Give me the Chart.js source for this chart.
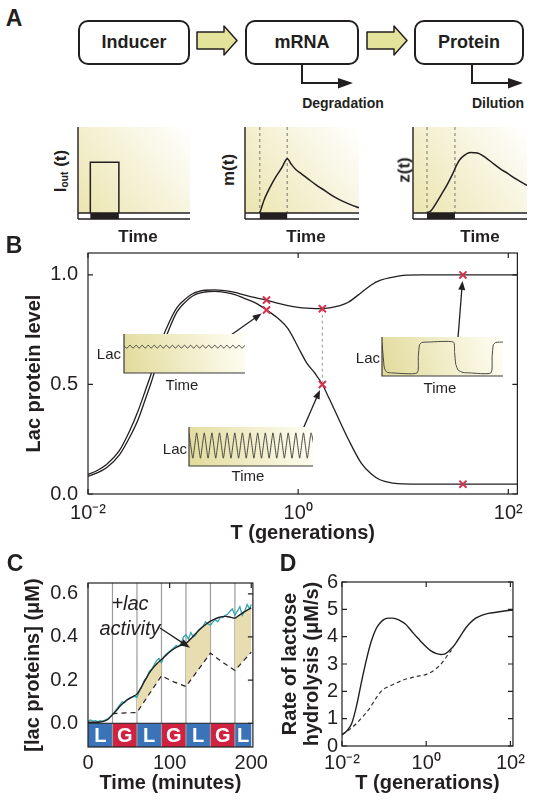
<!DOCTYPE html>
<html>
<head>
<meta charset="utf-8">
<script src="https://cdn.jsdelivr.net/npm/chart.js@4.4.1/dist/chart.umd.min.js"></script>
<style>
  body { margin: 0; background: #fff; }
  #fig { position: relative; width: 535px; height: 800px; overflow: hidden;
         font-family: "Liberation Sans", Arial, Helvetica, sans-serif; color: #231f20; }
  #fig canvas { position: absolute; z-index: 1; }
  #fig canvas.inset { z-index: 2; }
  .t { position: absolute; white-space: nowrap; line-height: 1; z-index: 5; }
  .c { transform: translate(-50%, -50%); }
  .r { transform: translate(-100%, -50%); }
  .v { transform: translate(-50%, -50%) rotate(-90deg); }
  .panel { font-weight: bold; font-size: 23px; }
  .bold { font-weight: bold; }
  .box { position: absolute; border: 2px solid #231f20; border-radius: 10px; box-sizing: border-box;
         display: flex; align-items: center; justify-content: center; font-weight: bold; font-size: 18px; }
  sub { font-size: 60%; vertical-align: -0.15em; }
</style>
</head>
<body>
<div id="fig">
  <!-- panel A: schematic -->
  <span class="t c panel" style="left:14px;top:18px">A</span>
  <div class="box" style="left:78px;top:20px;width:112px;height:45px">Inducer</div>
  <div class="box" style="left:245px;top:20px;width:114px;height:45px">mRNA</div>
  <div class="box" style="left:414px;top:20px;width:110px;height:45px">Protein</div>
  <svg width="535" height="120" style="position:absolute;left:0;top:0">
    <polygon points="197,32 224,32 224,26 237,40.5 224,55 224,49 197,49" fill="#e4e39c" stroke="#231f20" stroke-width="1.5" stroke-linejoin="round"/>
    <polygon points="367,32 394,32 394,26 407,40.5 394,55 394,49 367,49" fill="#e4e39c" stroke="#231f20" stroke-width="1.5" stroke-linejoin="round"/>
    <polyline points="302,64 302,83 341,83" fill="none" stroke="#231f20" stroke-width="2"/>
    <polygon points="338,78 353,83 338,88.5" fill="#231f20"/>
    <polyline points="472,64 472,83 511,83" fill="none" stroke="#231f20" stroke-width="2"/>
    <polygon points="508,78 523,83 508,88.5" fill="#231f20"/>
  </svg>
  <span class="t c bold" style="left:343px;top:103px;font-size:14px">Degradation</span>
  <span class="t c bold" style="left:498px;top:103px;font-size:14px">Dilution</span>

  <span class="t v bold" style="left:61px;top:171px;font-size:17px">I<sub>out</sub> (t)</span>
  <span class="t v bold" style="left:228px;top:170px;font-size:17px">m(t)</span>
  <span class="t v bold" style="left:404px;top:170px;font-size:17px">z(t)</span>
  <span class="t c bold" style="left:138px;top:236px;font-size:17px">Time</span>
  <span class="t c bold" style="left:306px;top:236px;font-size:17px">Time</span>
  <span class="t c bold" style="left:480px;top:236px;font-size:17px">Time</span>

  <!-- panel B -->
  <span class="t c panel" style="left:14px;top:245px">B</span>
  <span class="t r" style="left:121px;top:353px;font-size:15px">Lac</span>
  <span class="t c" style="left:182px;top:384px;font-size:15px">Time</span>
  <span class="t r" style="left:187px;top:448px;font-size:15px">Lac</span>
  <span class="t c" style="left:248px;top:475px;font-size:15px">Time</span>
  <span class="t r" style="left:380px;top:357px;font-size:15px">Lac</span>
  <span class="t c" style="left:440px;top:387px;font-size:15px">Time</span>

  <!-- panel C, D -->
  <span class="t c panel" style="left:15px;top:563px">C</span>
  <span class="t c panel" style="left:288px;top:563px">D</span>
  <span class="t c" style="left:130px;top:603px;font-size:20px;font-style:italic">+lac</span>
  <span class="t c" style="left:130px;top:628px;font-size:20px;font-style:italic">activity</span>
</div>

<script>
// ---------- data ----------
// A: schematic time courses (x in % of plot width)
var aPulseT = [11, 11, 36.5, 36.5];
var aPulseY = [0, 0.59, 0.59, 0];
var aMT = [13, 17, 22, 27, 32, 37, 41, 45, 50, 55, 62, 70, 78, 85, 92, 100];
var aMY = [0, 0.16, 0.3, 0.42, 0.52, 0.63, 0.56, 0.5, 0.45, 0.4, 0.33, 0.26, 0.19, 0.14, 0.1, 0.06];
var aZT = [12.3, 16, 21, 26, 30, 35, 38, 41, 45, 49, 54, 58, 64, 69, 76, 83, 91, 100];
var aZY = [0, 0.03, 0.13, 0.24, 0.33, 0.46, 0.55, 0.62, 0.67, 0.7, 0.7, 0.69, 0.64, 0.59, 0.52, 0.46, 0.39, 0.32];
var aOnT = [11, 13, 12.3];
var aOffT = [36.5, 37, 36.8];

// B: Lac protein level vs T
var bT = [0.01, 0.012, 0.015, 0.02, 0.025, 0.03, 0.035, 0.04, 0.05, 0.06, 0.07, 0.08, 0.1, 0.13, 0.16, 0.2, 0.25, 0.3, 0.4, 0.5,
          0.65, 0.8, 1, 1.2, 1.45, 1.7, 2, 2.5, 3, 4, 5, 6, 8, 10, 15, 20, 40, 70, 122];
var bUpper = [0.09, 0.105, 0.135, 0.2, 0.29, 0.38, 0.47, 0.55, 0.7, 0.79, 0.85, 0.88, 0.915, 0.93, 0.932, 0.928, 0.92, 0.91, 0.895, 0.885,
              0.87, 0.86, 0.852, 0.848, 0.846, 0.846, 0.85, 0.86, 0.875, 0.92, 0.955, 0.975, 0.99, 0.998, 1, 1, 1, 1, 1];
var bLower = [0.08, 0.095, 0.12, 0.18, 0.26, 0.34, 0.43, 0.51, 0.66, 0.76, 0.83, 0.865, 0.905, 0.922, 0.925, 0.92, 0.91, 0.895, 0.87, 0.84,
              0.8, 0.755, 0.67, 0.6, 0.55, 0.5, 0.43, 0.33, 0.25, 0.14, 0.09, 0.065, 0.05, 0.046, 0.045, 0.045, 0.045, 0.045, 0.045];
var bMarkT = [0.5, 0.5, 1.7, 1.7, 37, 37];
var bMarkY = [0.885, 0.84, 0.846, 0.5, 1.0, 0.045];
var bXTicks = [0.01, 1, 100];
var bXTickLabels = ['10\u207B\u00B2', '10\u2070', '10\u00B2'];
var bYTicks = [0, 0.5, 1];
var bYTickLabels = ['0.0', '0.5', '1.0'];

// B insets
var in1Y = [0.69, 0.64, 0.71, 0.64, 0.71, 0.64, 0.71, 0.64, 0.71, 0.64, 0.71, 0.64, 0.71, 0.64, 0.71, 0.64, 0.71, 0.64, 0.71, 0.64, 0.71,
            0.64, 0.71, 0.64, 0.71, 0.64, 0.71, 0.64, 0.71, 0.64, 0.71, 0.64, 0.71, 0.64, 0.71, 0.64, 0.71, 0.64, 0.71, 0.64, 0.71];
var in2Y = [0.85, 0.2, 0.85, 0.2, 0.85, 0.2, 0.85, 0.2, 0.85, 0.2, 0.85, 0.2, 0.85, 0.2, 0.85, 0.2, 0.85,
            0.2, 0.85, 0.2, 0.85, 0.2, 0.85, 0.2, 0.85, 0.2, 0.85, 0.2, 0.85, 0.2, 0.85, 0.2, 0.85, 0.4];
var in3T = [0, 1, 2, 4, 8, 29, 30, 31, 33, 38, 59, 60, 61, 63, 67, 72, 90, 91, 92, 94, 100];
var in3Y = [0.85, 0.5, 0.2, 0.1, 0.08, 0.08, 0.5, 0.8, 0.86, 0.87, 0.87, 0.6, 0.3, 0.15, 0.09, 0.08, 0.08, 0.5, 0.8, 0.86, 0.87];

// C: lac proteins vs time
var cT = [0, 5, 10, 15, 20, 25, 30, 35, 40, 45, 50, 55, 60, 65, 70, 75, 80, 85, 90, 95, 100,
          105, 110, 115, 120, 125, 130, 135, 140, 145, 150, 155, 160, 165, 170, 175, 180, 185, 190, 195, 200];
var cModel = [0.005, 0.005, 0.005, 0.006, 0.01, 0.02, 0.04, 0.06, 0.082, 0.1, 0.113, 0.124, 0.135, 0.165, 0.2, 0.232, 0.258, 0.278, 0.295, 0.313, 0.33,
              0.344, 0.355, 0.362, 0.37, 0.388, 0.408, 0.428, 0.445, 0.46, 0.473, 0.483, 0.49, 0.494, 0.495, 0.491, 0.487, 0.5, 0.513, 0.524, 0.535];
var cDataT = [0, 3, 6, 9, 12, 15, 18, 21, 24, 27, 30, 33, 36, 39, 42, 45, 48, 51, 54, 57, 60, 63, 66, 69, 72, 75, 78, 81, 84, 87,
              90, 93, 96, 99, 102, 105, 108, 111, 114, 117, 120, 123, 126, 129, 132, 135, 138, 141, 144, 147, 150, 153, 156, 159,
              162, 165, 168, 171, 174, 177, 180, 183, 186, 189, 192, 195, 198, 200];
var cDataY = [0.01, 0.015, 0.01, 0.012, 0.008, 0.012, 0.01, 0.015, 0.02, 0.03, 0.04, 0.055, 0.07, 0.085, 0.1, 0.095, 0.11, 0.115, 0.12, 0.125,
              0.12, 0.15, 0.17, 0.2, 0.21, 0.24, 0.25, 0.27, 0.29, 0.3, 0.28, 0.31, 0.32, 0.33, 0.34, 0.35, 0.36, 0.355, 0.37, 0.4,
              0.41, 0.39, 0.42, 0.4, 0.41, 0.43, 0.44, 0.45, 0.47, 0.46, 0.455, 0.47, 0.48, 0.47, 0.49, 0.49, 0.5, 0.505, 0.52, 0.53,
              0.5, 0.52, 0.54, 0.5, 0.52, 0.55, 0.53, 0.55];
var cDashT = [30, 60, 90, 105, 120, 150, 165, 180, 200];
var cDashY = [0.045, 0.05, 0.22, 0.192, 0.17, 0.325, 0.282, 0.245, 0.33];
var cPhaseEdges = [0, 30, 60, 90, 120, 150, 180, 200];
var cPhaseLabels = ['L', 'G', 'L', 'G', 'L', 'G', 'L'];
var cFillRanges = [[60, 90], [120, 150], [180, 200]];
var cXTicks = [0, 100, 200];
var cYTicks = [0, 0.2, 0.4, 0.6];
var cYTickLabels = ['0.0', '0.2', '0.4', '0.6'];

// D: rate of lactose hydrolysis vs T
var dT = [0.01, 0.013, 0.017, 0.022, 0.03, 0.04, 0.05, 0.065, 0.08, 0.1, 0.13, 0.16, 0.2, 0.25, 0.32, 0.4, 0.5, 0.65, 0.8, 1,
          1.3, 1.7, 2.2, 2.7, 3.3, 4.3, 5.5, 7, 8.5, 11, 15, 20, 30, 50, 80, 115];
var dSolid = [0.41, 0.55, 0.82, 1.45, 2.45, 3.3, 3.85, 4.3, 4.5, 4.63, 4.68, 4.68, 4.64, 4.57, 4.46, 4.3, 4.12, 3.93, 3.78, 3.63,
              3.48, 3.39, 3.35, 3.36, 3.45, 3.62, 3.85, 4.1, 4.3, 4.5, 4.68, 4.77, 4.85, 4.9, 4.95, 4.97];
var dDashT = [0.01, 0.015, 0.022, 0.03, 0.045, 0.06, 0.09, 0.13, 0.18, 0.25, 0.35, 0.45, 0.6, 0.8, 1, 1.3, 1.7, 2.1, 2.7, 3.3, 4];
var dDash = [0.41, 0.6, 0.82, 1.05, 1.37, 1.68, 2.04, 2.18, 2.28, 2.38, 2.46, 2.5, 2.55, 2.58, 2.62, 2.7, 2.82, 2.95, 3.15, 3.35, 3.5];
var dXTicks = [0.01, 1, 100];
var dYTicks = [0, 1, 2, 3, 4, 5, 6];

// ---------- setup ----------
var INK = '#231f20', RED = '#d4314f', BLUE = '#3b73b9', CRED = '#cf2140', TEAL = '#35a7b0', KHAKI = '#e7ddb0';
var FONT = '"Liberation Sans", Arial, Helvetica, sans-serif';
Chart.defaults.font.family = FONT;
Chart.defaults.font.size = 20;
Chart.defaults.color = INK;
Chart.defaults.animation = false;
Chart.defaults.responsive = false;
Chart.defaults.devicePixelRatio = 1;
Chart.defaults.plugins.legend.display = false;
Chart.defaults.plugins.tooltip.enabled = false;
Chart.defaults.elements.point.radius = 0;
Chart.defaults.layout.autoPadding = false;

var fig = document.getElementById('fig');

function addCanvas(left, top, w, h, cls) {
  var c = document.createElement('canvas');
  c.width = w; c.height = h;
  c.style.left = left + 'px'; c.style.top = top + 'px';
  if (cls) c.className = cls;
  fig.insertBefore(c, fig.firstChild);
  return c;
}
function xy(xs, ys) { return xs.map(function(x, i) { return {x: x, y: ys[i]}; }); }
function fixedTicks(vals) { return function(s) { s.ticks = vals.map(function(v) { return {value: v}; }); }; }
function fitW(w) { return function(s) { s.width = w; }; }
function fitH(h) { return function(s) { s.height = h; }; }

function deco(o) {
  return {
    id: 'deco',
    beforeDraw: function(chart) {
      var a = chart.chartArea, ctx = chart.ctx;
      if (o.bg) {
        ctx.save();
        var g = ctx.createLinearGradient(a.left, a.bottom, a.right, a.top);
        g.addColorStop(0, o.bg[0]); g.addColorStop(1, o.bg[1]);
        ctx.fillStyle = g;
        ctx.fillRect(a.left, a.top, a.right - a.left, a.bottom - a.top);
        ctx.restore();
      }
    },
    beforeDatasetsDraw: function(chart) {
      if (o.under) { chart.ctx.save(); o.under(chart, chart.ctx, chart.chartArea); chart.ctx.restore(); }
    },
    afterDatasetsDraw: function(chart) {
      if (o.over) { chart.ctx.save(); o.over(chart, chart.ctx, chart.chartArea); chart.ctx.restore(); }
    }
  };
}

function boxTicks(chart, ctx, a, len, sides) {
  var xs = chart.scales.x, ys = chart.scales.y;
  ctx.strokeStyle = INK; ctx.lineWidth = 1.2;
  ctx.strokeRect(a.left, a.top, a.right - a.left, a.bottom - a.top);
  ctx.beginPath();
  xs.ticks.forEach(function(t) {
    var p = xs.getPixelForValue(t.value);
    if (sides.indexOf('b') >= 0) { ctx.moveTo(p, a.bottom); ctx.lineTo(p, a.bottom - len); }
    if (sides.indexOf('t') >= 0) { ctx.moveTo(p, a.top); ctx.lineTo(p, a.top + len); }
  });
  ys.ticks.forEach(function(t) {
    var p = ys.getPixelForValue(t.value);
    if (sides.indexOf('l') >= 0) { ctx.moveTo(a.left, p); ctx.lineTo(a.left + len, p); }
    if (sides.indexOf('r') >= 0) { ctx.moveTo(a.right, p); ctx.lineTo(a.right - len, p); }
  });
  ctx.stroke();
}

function arrow(ctx, x1, y1, x2, y2, hl, hw) {
  var ang = Math.atan2(y2 - y1, x2 - x1), c = Math.cos(ang), s = Math.sin(ang);
  ctx.strokeStyle = INK; ctx.fillStyle = INK; ctx.lineWidth = 1.3;
  ctx.beginPath(); ctx.moveTo(x1, y1); ctx.lineTo(x2 - hl * 0.8 * c, y2 - hl * 0.8 * s); ctx.stroke();
  ctx.beginPath(); ctx.moveTo(x2, y2);
  ctx.lineTo(x2 - hl * c + hw * s, y2 - hl * s - hw * c);
  ctx.lineTo(x2 - hl * c - hw * s, y2 - hl * s + hw * c);
  ctx.closePath(); ctx.fill();
}

// ---------- A: small schematic plots ----------
function smallPlot(left, right, data, onT, offT, dashed, tension) {
  var cv = addCanvas(left - 2, 125, right - left + 4, 96);
  new Chart(cv, {
    type: 'line',
    data: { datasets: [{ data: data, borderColor: INK, borderWidth: 1.5, tension: tension }] },
    options: {
      layout: { padding: { left: 2, right: 2, top: 2, bottom: 2 } },
      scales: {
        x: { type: 'linear', min: 0, max: 100, display: false },
        y: { min: -0.07, max: 1, display: false }
      }
    },
    plugins: [deco({
      bg: ['#ebe4ad', '#ffffff'],
      under: function(chart, ctx, a) {
        var xs = chart.scales.x, ys = chart.scales.y, y0 = ys.getPixelForValue(0);
        ctx.fillStyle = '#fff'; ctx.fillRect(a.left, y0, a.right - a.left, a.bottom - y0);
        var x1 = xs.getPixelForValue(onT), x2 = xs.getPixelForValue(offT);
        ctx.fillStyle = INK; ctx.fillRect(x1, y0, x2 - x1, a.bottom - y0);
        if (dashed) {
          ctx.strokeStyle = '#555'; ctx.lineWidth = 0.8; ctx.setLineDash([3, 3]);
          ctx.beginPath();
          ctx.moveTo(x1, a.top); ctx.lineTo(x1, y0);
          ctx.moveTo(x2, a.top); ctx.lineTo(x2, y0);
          ctx.stroke(); ctx.setLineDash([]);
        }
        ctx.strokeStyle = INK; ctx.lineWidth = 1.4;
        ctx.beginPath();
        ctx.moveTo(a.left, a.top); ctx.lineTo(a.left, a.bottom);
        ctx.moveTo(a.left, y0); ctx.lineTo(a.right, y0);
        ctx.moveTo(a.left, a.bottom); ctx.lineTo(a.right, a.bottom);
        ctx.stroke();
      }
    })]
  });
}
smallPlot(78, 190, xy(aPulseT, aPulseY), aOnT[0], aOffT[0], false, 0);
smallPlot(245, 359, xy(aMT, aMY), aOnT[1], aOffT[1], true, 0.3);
smallPlot(413, 527, xy(aZT, aZY), aOnT[2], aOffT[2], true, 0.35);

// ---------- B: main chart ----------
var B0 = { left: 20, top: 231 };
var bArrows = [ { from: [231, 335], to: 1 }, { from: [303, 429], to: 3 }, { from: [458, 338], to: 4 } ];
new Chart(addCanvas(B0.left, B0.top, 510, 314), {
  type: 'line',
  data: { datasets: [
    { data: xy(bMarkT, bMarkY), showLine: false, pointStyle: 'crossRot', pointRadius: 5,
      pointBorderColor: RED, pointBorderWidth: 2 },
    { data: xy(bT, bUpper), borderColor: INK, borderWidth: 1.3, cubicInterpolationMode: 'monotone' },
    { data: xy(bT, bLower), borderColor: INK, borderWidth: 1.3, cubicInterpolationMode: 'monotone' },
    { data: xy(bMarkT.slice(2, 4), bMarkY.slice(2, 4)), borderColor: '#a8a8a8', borderWidth: 1.2, borderDash: [3, 3] }
  ] },
  options: {
    layout: { padding: { top: 0, right: 11 } },
    scales: {
      x: { type: 'logarithmic', min: 0.01, max: 122, afterBuildTicks: fixedTicks(bXTicks), afterFit: fitH(51),
           grid: { display: false, drawTicks: false }, border: { display: false },
           ticks: { padding: 7, autoSkip: false, maxRotation: 0, callback: function(v, i) { return bXTickLabels[i]; } },
           title: { display: true, text: 'T (generations)', font: { size: 20, weight: 'bold' }, padding: 0 } },
      y: { min: 0, max: 1.1, afterBuildTicks: fixedTicks(bYTicks), afterFit: fitW(68),
           grid: { display: false, drawTicks: false }, border: { display: false },
           ticks: { padding: 10, callback: function(v, i) { return bYTickLabels[i]; } },
           title: { display: true, text: 'Lac protein level', font: { size: 20, weight: 'bold' }, padding: { top: 2, bottom: 0 } } }
    }
  },
  plugins: [deco({
    over: function(chart, ctx, a) {
      boxTicks(chart, ctx, a, 5, 'btlr');
      var xs = chart.scales.x, ys = chart.scales.y;
      bArrows.forEach(function(ar) {
        var tx = xs.getPixelForValue(bMarkT[ar.to]), ty = ys.getPixelForValue(bMarkY[ar.to]);
        var fx = ar.from[0] - B0.left, fy = ar.from[1] - B0.top;
        var d = Math.hypot(tx - fx, ty - fy), k = (d - 6) / d;
        arrow(ctx, fx, fy, fx + (tx - fx) * k, fy + (ty - fy) * k, 9, 3.5);
      });
    }
  })]
});

// B insets
function inset(left, top, w, h, data, xmax, tension) {
  new Chart(addCanvas(left - 2, top - 2, w + 4, h + 4, 'inset'), {
    type: 'line',
    data: { datasets: [{ data: data, borderColor: '#4a4a44', borderWidth: 1, tension: tension }] },
    options: {
      layout: { padding: 2 },
      scales: { x: { type: 'linear', min: 0, max: xmax, display: false }, y: { min: 0, max: 1, display: false } }
    },
    plugins: [deco({
      bg: ['#e2da9a', '#fffff6'],
      over: function(chart, ctx, a) {
        ctx.strokeStyle = '#3a3a3a'; ctx.lineWidth = 1.2;
        ctx.beginPath(); ctx.moveTo(a.left, a.top); ctx.lineTo(a.left, a.bottom); ctx.lineTo(a.right, a.bottom); ctx.stroke();
      }
    })]
  });
}
inset(124, 334, 121, 39, xy(in1Y.map(function(_, i) { return i; }), in1Y), 40, 0.4);
inset(189, 427, 124, 39, xy(in2Y.map(function(_, i) { return i; }), in2Y), 32.5, 0.15);
inset(382, 337, 121, 39, xy(in3T, in3Y), 100, 0.2);

// ---------- C ----------
var C0 = { left: 20, top: 561 };
var cDatasets = [
  { data: xy(cT, cModel), borderColor: INK, borderWidth: 1.4, tension: 0.25 },
  { data: xy(cDataT, cDataY), borderColor: TEAL, borderWidth: 1.3, tension: 0 },
  { data: xy(cDashT, cDashY), borderColor: INK, borderWidth: 1.2, borderDash: [5, 4], tension: 0 }
];
cFillRanges.forEach(function(r) {
  var top = [], low = [];
  cT.forEach(function(t, i) { if (t >= r[0] && t <= r[1]) top.push({x: t, y: cModel[i]}); });
  cDashT.forEach(function(t, i) { if (t >= r[0] && t <= r[1]) low.push({x: t, y: cDashY[i]}); });
  cDatasets.push({ data: top, borderColor: 'rgba(0,0,0,0)', backgroundColor: KHAKI, fill: '+1', tension: 0 });
  cDatasets.push({ data: low, borderColor: 'rgba(0,0,0,0)', tension: 0 });
});
new Chart(addCanvas(C0.left, C0.top, 252, 234), {
  type: 'line',
  data: { datasets: cDatasets },
  options: {
    layout: { padding: { top: 0, right: 5 } },
    scales: {
      x: { type: 'linear', min: 0, max: 202, afterBuildTicks: fixedTicks(cXTicks), afterFit: fitH(48),
           grid: { display: false, drawTicks: false }, border: { display: false },
           ticks: { padding: 4, autoSkip: false, maxRotation: 0 },
           title: { display: true, text: 'Time (minutes)', font: { size: 20, weight: 'bold' }, padding: 0 } },
      y: { min: -0.11, max: 0.65, afterBuildTicks: fixedTicks(cYTicks), afterFit: fitW(68),
           grid: { display: false, drawTicks: false }, border: { display: false },
           ticks: { padding: 10, callback: function(v, i) { return cYTickLabels[i]; } },
           title: { display: true, text: '[lac proteins] (\u03BCM)', font: { size: 20, weight: 'bold' }, padding: { top: 1, bottom: 0 } } }
    }
  },
  plugins: [deco({
    under: function(chart, ctx, a) {
      var xs = chart.scales.x, ys = chart.scales.y, y0 = ys.getPixelForValue(0);
      ctx.font = 'bold 20px ' + FONT; ctx.textAlign = 'center'; ctx.textBaseline = 'middle';
      for (var i = 0; i < cPhaseLabels.length; i++) {
        var x1 = xs.getPixelForValue(cPhaseEdges[i]), x2 = xs.getPixelForValue(cPhaseEdges[i + 1]);
        ctx.fillStyle = cPhaseLabels[i] === 'L' ? BLUE : CRED;
        ctx.fillRect(x1, y0, x2 - x1, a.bottom - y0);
        ctx.fillStyle = '#fff';
        ctx.fillText(cPhaseLabels[i], (x1 + x2) / 2, (y0 + a.bottom) / 2 + 1);
      }
      ctx.strokeStyle = '#9b9b9b'; ctx.lineWidth = 1.2;
      cPhaseEdges.slice(1, -1).forEach(function(e) {
        var p = xs.getPixelForValue(e);
        ctx.beginPath(); ctx.moveTo(p, a.top); ctx.lineTo(p, a.bottom); ctx.stroke();
      });
    },
    over: function(chart, ctx, a) {
      var xs = chart.scales.x, ys = chart.scales.y, y0 = ys.getPixelForValue(0);
      ctx.strokeStyle = INK; ctx.lineWidth = 1.2;
      ctx.beginPath(); ctx.moveTo(a.left, y0); ctx.lineTo(a.right, y0); ctx.stroke();
      boxTicks(chart, ctx, a, 5, 'tr');
      arrow(ctx, 160 - C0.left, 628 - C0.top, xs.getPixelForValue(125), ys.getPixelForValue(0.35), 10, 3.5);
    }
  })]
});

// ---------- D ----------
new Chart(addCanvas(276, 566, 254, 229), {
  type: 'line',
  data: { datasets: [
    { data: xy(dT, dSolid), borderColor: INK, borderWidth: 1.4, cubicInterpolationMode: 'monotone' },
    { data: xy(dDashT, dDash), borderColor: '#333', borderWidth: 1.2, borderDash: [4, 3], cubicInterpolationMode: 'monotone' }
  ] },
  options: {
    layout: { padding: { top: 0, right: 9 } },
    scales: {
      x: { type: 'logarithmic', min: 0.01, max: 115, afterBuildTicks: fixedTicks(dXTicks), afterFit: fitH(49),
           grid: { display: false, drawTicks: false }, border: { display: false },
           ticks: { padding: 5, autoSkip: false, maxRotation: 0, callback: function(v, i) { return bXTickLabels[i]; } },
           title: { display: true, text: 'T (generations)', font: { size: 20, weight: 'bold' }, padding: 0 } },
      y: { min: 0, max: 6, afterBuildTicks: fixedTicks(dYTicks), afterFit: fitW(66),
           grid: { display: false, drawTicks: false }, border: { display: false },
           ticks: { padding: 4, callback: function(v) { return String(v); } },
           title: { display: true, text: ['Rate of lactose', 'hydrolysis (\u03BCM/s)'],
                    font: { size: 20, weight: 'bold', lineHeight: 1.1 }, padding: { top: 3, bottom: 0 } } }
    }
  },
  plugins: [deco({ over: function(chart, ctx, a) { boxTicks(chart, ctx, a, 5, 'btlr'); } })]
});
</script>
</body>
</html>
